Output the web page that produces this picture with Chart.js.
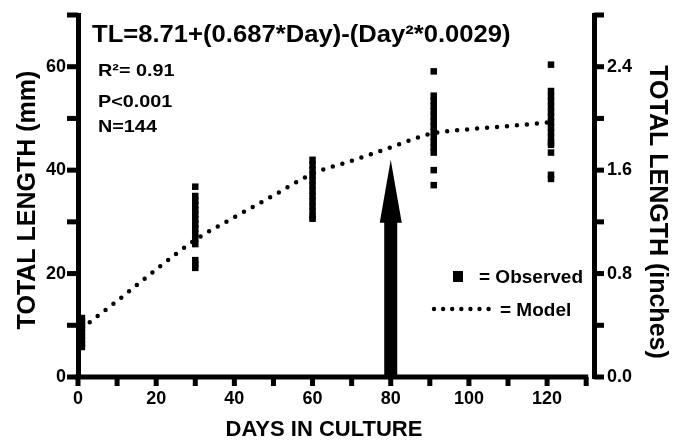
<!DOCTYPE html>
<html><head><meta charset="utf-8">
<script src="https://cdn.jsdelivr.net/npm/chart.js@4.4.0/dist/chart.umd.min.js"></script>
<style>html,body{margin:0;padding:0;background:#fff}#wrap{width:679px;height:440px}</style>
</head><body><div id="wrap"><canvas id="c" width="679" height="440"></canvas></div>
<script>
// ---- data ----
const obsDay = [
  1,1,1,1,1,1,1,1,1,
  30,30,30,30,30,30,30,30,30,30,30,30,30,30,30,
  60,60,60,60,60,60,60,60,60,60,60,60,60,
  91,91,91,91,91,91,91,91,91,91,91,91,91,91,91,
  121,121,121,121,121,121,121,121,121,121,121,121,121,121,121,121
];
const obsTL = [
  5.8,6.5,7.2,7.9,8.6,9.3,10.0,10.7,11.4,
  36.8,35.0,34.1,33.2,32.3,31.4,30.5,29.6,28.7,27.7,26.7,25.7,22.6,21.8,21.1,
  42.0,41.0,40.0,39.0,38.0,37.0,36.0,35.0,34.0,33.0,32.0,31.0,30.6,
  59.1,54.4,53.4,52.4,51.4,50.4,49.4,48.4,47.4,46.4,45.4,44.4,43.4,40.0,37.1,
  60.4,55.3,54.3,53.3,52.3,51.3,50.3,49.3,48.3,47.3,46.3,45.3,44.9,43.4,39.1,38.3
];
const modelDay = [3,10,20,30,40,50,60,70,80,90,100,110,121];
const modelTL  = [10.6,14.7,20.8,26.5,30.9,35.1,39.3,41.8,44.4,47.0,47.9,48.5,49.3];
const xTickValues = [0,10,20,30,40,50,60,70,80,90,100,110,120,130];
const xTickLabels = [0,20,40,60,80,100,120];
const mmTickValues = [0,10,20,30,40,50,60,70];
const mmTickLabels = [0,20,40,60];
const inchTickValues = [0,0.4,0.8,1.2,1.6,2.0,2.4,2.8];
const inchTickLabels = [0.0,0.8,1.6,2.4];
const arrowDay = [80];
const arrowShaftTop = [30];
const arrowTip = [42];
const equation = 'TL=8.71+(0.687*Day)-(Day\u00B2*0.0029)';
const statLines = ['R\u00B2= 0.91','P<0.001','N=144'];
const legendObserved = '= Observed';
const legendModel = '= Model';
const xTitle = 'DAYS IN CULTURE';
const yTitle = 'TOTAL LENGTH (mm)';
const y2Title = 'TOTAL LENGTH (inches)';

const FAM = '"Liberation Sans", Arial, Helvetica, sans-serif';

const decor = {
  id: 'decor',
  beforeDatasetsDraw(chart) {
    const {ctx, scales: {x, y, y2}} = chart;
    ctx.save();
    ctx.setLineDash([]);
    ctx.fillStyle = '#000000';
    const y0 = y.getPixelForValue(0);
    const xa = x.getPixelForValue(0);
    const xb = x.getPixelForValue(130);
    // x axis line
    ctx.fillRect(xa - 3, y0 - 2.5, xb - xa + 5, 5);
    // tick marks
    xTickValues.forEach(v => {
      const px = x.getPixelForValue(v);
      ctx.fillRect(px - 2.5, y0, 5, 9);
    });
    const lx = chart.chartArea.left;
    mmTickValues.forEach(v => {
      const py = y.getPixelForValue(v);
      ctx.fillRect(lx - 11, py - 2.5, 11, 5);
    });
    const rx = chart.chartArea.right;
    inchTickValues.forEach(v => {
      const py = y2.getPixelForValue(v);
      ctx.fillRect(rx, py - 2.5, 10, 5);
    });
    // arrow
    arrowDay.forEach((d, i) => {
      const cx = x.getPixelForValue(d);
      const ys = y.getPixelForValue(arrowShaftTop[i]);
      const yt = y.getPixelForValue(arrowTip[i]);
      ctx.fillRect(cx - 6.5, ys, 13, y0 - ys);
      ctx.beginPath();
      ctx.moveTo(cx - 11, ys + 1);
      ctx.lineTo(cx + 11, ys + 1);
      ctx.lineTo(cx, yt);
      ctx.closePath();
      ctx.fill();
    });
    ctx.restore();
  },
  afterDraw(chart) {
    const {ctx} = chart;
    ctx.save();
    ctx.fillStyle = '#000';
    ctx.textBaseline = 'alphabetic';
    ctx.textAlign = 'left';
    // equation
    ctx.save();
    ctx.translate(92, 42);
    ctx.scale(1.09, 1);
    ctx.font = 'bold 23.5px ' + FAM;
    ctx.fillText(equation, 0, 0);
    ctx.restore();
    // stats
    const bl = [76, 107, 132];
    statLines.forEach((t, i) => {
      ctx.save();
      ctx.translate(98, bl[i]);
      ctx.scale(1.2, 1);
      ctx.font = 'bold 16.5px ' + FAM;
      ctx.fillText(t, 0, 0);
      ctx.restore();
    });
    // legend
    ctx.fillRect(453, 271, 10, 11);
    ctx.font = 'bold 19px ' + FAM;
    ctx.fillText(legendObserved, 479, 283);
    for (let k = 0; k < 7; k++) {
      ctx.beginPath();
      ctx.arc(434 + k * 9.1, 309, 2.2, 0, Math.PI * 2);
      ctx.fill();
    }
    ctx.fillText(legendModel, 500, 316);
    // axis titles
    ctx.textAlign = 'center';
    ctx.textBaseline = 'middle';
    ctx.font = 'bold 22px ' + FAM;
    ctx.fillText(xTitle, 324, 430);
    ctx.save();
    ctx.translate(28, 200);
    ctx.rotate(-Math.PI / 2);
    ctx.font = 'bold 25px ' + FAM;
    ctx.fillText(yTitle, 0, 0);
    ctx.restore();
    ctx.save();
    ctx.translate(657, 212);
    ctx.rotate(Math.PI / 2);
    ctx.font = 'bold 25px ' + FAM;
    ctx.fillText(y2Title, 0, 0);
    ctx.restore();
    ctx.restore();
  }
};

const tickFont = {family: FAM, size: 18, weight: 'bold'};
const hidden = 'rgba(0,0,0,0)';
new Chart(document.getElementById('c'), {
  type: 'scatter',
  data: {
    datasets: [
      {
        type: 'line',
        label: 'Model',
        data: modelDay.map((d, i) => ({x: d, y: modelTL[i]})),
        borderColor: '#000',
        borderWidth: 4.5,
        borderDash: [0, 10],
        borderCapStyle: 'round',
        cubicInterpolationMode: 'monotone',
        pointRadius: 0,
        fill: false,
        yAxisID: 'y',
        order: 2
      },
      {
        label: 'Observed',
        data: obsDay.map((d, i) => ({x: d, y: obsTL[i]})),
        pointStyle: 'rect',
        pointRadius: 4.6,
        backgroundColor: '#000',
        borderWidth: 0,
        yAxisID: 'y',
        order: 1
      }
    ]
  },
  options: {
    responsive: false,
    animation: false,
    devicePixelRatio: 1,
    layout: {padding: {top: 15, left: 0, right: 0, bottom: 0}},
    plugins: {legend: {display: false}, tooltip: {enabled: false}},
    scales: {
      x: {
        type: 'linear', position: 'bottom', min: 0, max: 132,
        border: {display: false},
        grid: {drawOnChartArea: false, color: hidden, lineWidth: 4, tickLength: 9},
        ticks: {stepSize: 10, autoSkip: false, maxRotation: 0, color: '#000', font: tickFont, padding: 2,
          callback: v => xTickLabels.includes(v) ? String(v) : ''},
        afterBuildTicks: s => { s.ticks = s.ticks.filter(t => t.value <= 130); },
        afterFit: s => { s.height = 63; }
      },
      y: {
        type: 'linear', position: 'left', min: 0, max: 70,
        border: {display: true, width: 5, color: '#000'},
        grid: {drawOnChartArea: false, color: hidden, lineWidth: 4, tickLength: 11},
        ticks: {stepSize: 10, autoSkip: false, color: '#000', font: tickFont, padding: 1,
          callback: v => mmTickLabels.includes(v) ? String(v) : ''},
        afterFit: s => { s.width = 78; }
      },
      y2: {
        type: 'linear', position: 'right', min: 0, max: 2.8,
        border: {display: true, width: 5, color: '#000'},
        grid: {drawOnChartArea: false, color: hidden, lineWidth: 4, tickLength: 10},
        ticks: {stepSize: 0.4, autoSkip: false, color: '#000', font: tickFont, padding: 3,
          callback: v => inchTickLabels.some(t => Math.abs(t - v) < 1e-6) ? v.toFixed(1) : ''},
        afterFit: s => { s.width = 85; }
      }
    }
  },
  plugins: [decor]
});
</script></body></html>
